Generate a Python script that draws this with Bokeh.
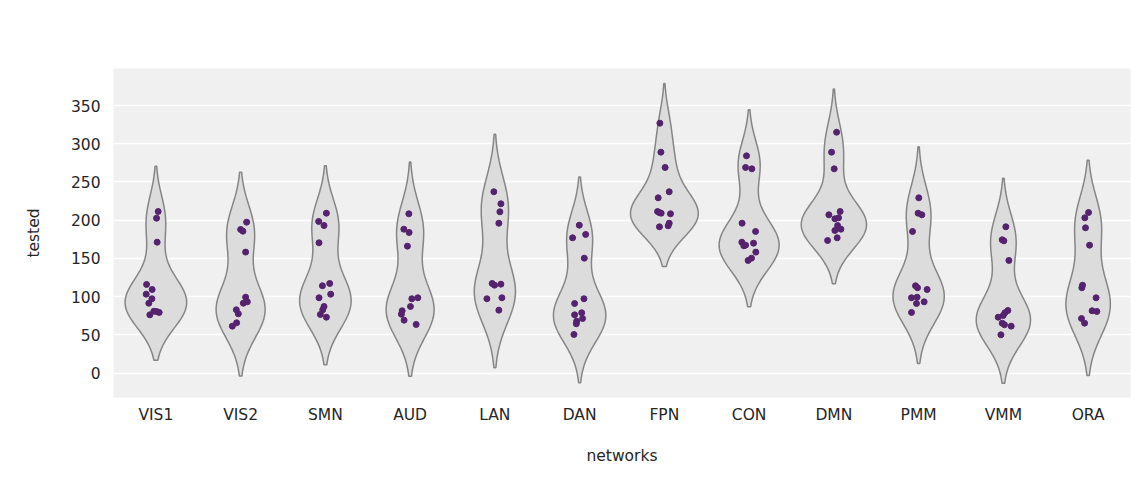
import numpy as np
from bokeh.plotting import figure
from bokeh.models import Range1d, FixedTicker
from bokeh.embed import file_html
from bokeh.resources import INLINE

# networks on the x axis
networks = ["VIS1", "VIS2", "SMN", "AUD", "LAN", "DAN",
            "FPN", "CON", "DMN", "PMM", "VMM", "ORA"]

# "tested" values per network
vis1 = [211.4, 202.7, 171.3, 116.0, 109.4, 103.3, 97.3, 91.5, 81.0, 79.4, 76.3, 80.5]
vis2 = [197.5, 187.9, 185.7, 158.3, 99.4, 93.3, 91.5, 82.9, 77.6, 65.9, 61.5]
smn = [209.2, 198.4, 193.1, 170.5, 117.3, 114.3, 103.3, 98.6, 87.2, 82.9, 76.8, 73.2]
aud = [208.4, 188.3, 184.0, 166.1, 97.3, 98.6, 87.2, 81.6, 77.1, 69.3, 63.7]
lan = [237.2, 221.5, 211.0, 196.1, 117.3, 115.1, 116.4, 97.3, 98.6, 82.4]
dan = [193.5, 181.4, 177.0, 150.4, 97.3, 91.1, 79.0, 76.3, 71.5, 68.0, 64.6, 50.6]
fpn = [326.9, 289.0, 269.0, 237.2, 229.3, 211.4, 209.2, 208.4, 196.1, 192.7, 191.4, 210.0]
con = [284.2, 269.0, 267.2, 196.1, 185.3, 171.3, 167.4, 166.6, 170.0, 158.3, 150.4, 147.4]
dmn = [315.1, 289.0, 267.2, 211.4, 207.1, 203.2, 201.9, 193.1, 188.3, 186.6, 177.0, 173.5]
pmm = [229.3, 209.2, 207.1, 185.3, 114.3, 111.7, 109.4, 98.6, 99.4, 93.3, 91.1, 79.4]
vmm = [191.4, 174.4, 173.1, 147.4, 82.0, 79.0, 75.4, 73.2, 65.4, 63.3, 61.5, 50.2]
ora = [210.1, 203.2, 190.1, 167.4, 115.1, 111.7, 98.6, 81.6, 80.7, 71.5, 65.4]

# horizontal strip jitter (fraction of a category slot)
vis1_dx = [0.027, 0.008, 0.015, -0.110, -0.044, -0.114, -0.047, -0.083, -0.024, 0.039, -0.071, 0.010]
vis2_dx = [0.071, 0.000, 0.027, 0.059, 0.059, 0.079, 0.032, -0.051, -0.027, -0.047, -0.098]
smn_dx = [0.012, -0.079, -0.016, -0.075, 0.051, -0.035, 0.063, -0.075, -0.016, -0.031, -0.059, 0.012]
aud_dx = [-0.015, -0.074, -0.012, -0.032, 0.020, 0.091, 0.004, -0.094, -0.103, -0.071, 0.071]
lan_dx = [-0.012, 0.071, 0.059, 0.047, -0.032, -0.004, 0.071, -0.094, 0.083, 0.047]
dan_dx = [-0.004, 0.071, -0.083, 0.055, 0.051, -0.059, 0.024, -0.059, 0.035, -0.035, -0.039, -0.067]
fpn_dx = [-0.053, -0.041, 0.009, 0.057, -0.073, -0.081, -0.038, 0.072, 0.057, 0.045, -0.058, -0.060]
con_dx = [-0.031, -0.042, 0.032, -0.083, 0.076, -0.086, -0.042, -0.063, 0.052, 0.079, 0.028, -0.012]
dmn_dx = [0.032, -0.027, 0.004, 0.074, -0.059, 0.055, 0.012, 0.044, 0.083, 0.012, 0.039, -0.074]
pmm_dx = [0.002, -0.006, 0.038, -0.072, -0.037, -0.013, 0.100, -0.084, -0.018, 0.065, -0.025, -0.084]
vmm_dx = [0.029, -0.014, 0.006, 0.065, 0.053, 0.018, -0.002, -0.061, -0.014, 0.013, 0.092, -0.029]
ora_dx = [0.005, -0.039, -0.031, 0.017, -0.066, -0.074, 0.094, 0.047, 0.103, -0.078, -0.042]

groups = [vis1, vis2, smn, aud, lan, dan, fpn, con, dmn, pmm, vmm, ora]
jitters = [vis1_dx, vis2_dx, smn_dx, aud_dx, lan_dx, dan_dx,
           fpn_dx, con_dx, dmn_dx, pmm_dx, vmm_dx, ora_dx]

y_ticks = [0, 50, 100, 150, 200, 250, 300, 350]

VIOLIN_WIDTH = 0.8


def gaussian_kde(vals, gridsize=100, cut=2.0):
    v = np.asarray(vals, dtype=float)
    n = len(v)
    bw = v.std(ddof=1) * n ** (-1.0 / 5.0)
    grid = np.linspace(v.min() - cut * bw, v.max() + cut * bw, gridsize)
    dens = np.exp(-0.5 * ((grid[:, None] - v[None, :]) / bw) ** 2).sum(axis=1)
    dens /= n * bw * np.sqrt(2 * np.pi)
    return grid, dens


kdes = [gaussian_kde(g) for g in groups]
peak = max(d.max() for _, d in kdes)

# violin outlines, area-scaled against the tallest density
vx, vy = [], []
for i, (grid, dens) in enumerate(kdes):
    c = i + 0.5
    half = dens / peak * VIOLIN_WIDTH / 2
    vx.append(np.concatenate([c - half, (c + half)[::-1]]).tolist())
    vy.append(np.concatenate([grid, grid[::-1]]).tolist())

px, py = [], []
for i, (g, dx) in enumerate(zip(groups, jitters)):
    for val, off in zip(g, dx):
        px.append(i + 0.5 + off)
        py.append(val)

p = figure(width=1145, height=495, output_backend="svg", toolbar_location=None,
           x_range=Range1d(0, len(networks)), y_range=Range1d(-31.8, 398.4),
           min_border_left=113, min_border_right=15, min_border_top=68,
           min_border_bottom=98)

p.background_fill_color = "#f0f0f0"
p.border_fill_color = "white"
p.outline_line_color = None

p.patches(vx, vy, fill_color="#dcdcdc", line_color="#858585", line_width=1.5)
p.scatter(px, py, size=6, fill_color="#55226e", line_color="#55226e")

p.xaxis.ticker = FixedTicker(ticks=[i + 0.5 for i in range(len(networks))])
p.xaxis.major_label_overrides = {i + 0.5: n for i, n in enumerate(networks)}
p.yaxis.ticker = FixedTicker(ticks=y_ticks)

for ax in (p.xaxis[0], p.yaxis[0]):
    ax.axis_line_color = None
    ax.major_tick_line_color = None
    ax.minor_tick_line_color = None
    ax.major_tick_out = 0
    ax.major_tick_in = 0
    ax.minor_tick_out = 0
    ax.major_label_text_font = "DejaVu Sans"
    ax.major_label_text_font_size = "15.5px"
    ax.major_label_text_color = "#262626"
    ax.axis_label_text_font = "DejaVu Sans"
    ax.axis_label_text_font_size = "15.5px"
    ax.axis_label_text_font_style = "normal"
    ax.axis_label_text_color = "#262626"

p.xaxis.axis_label = "networks"
p.yaxis.axis_label = "tested"
p.xaxis.major_label_standoff = 8
p.xaxis.axis_label_standoff = 20
p.yaxis.major_label_standoff = 13
p.yaxis.axis_label_standoff = 25

p.xgrid.grid_line_color = None
p.ygrid.grid_line_color = "white"
p.ygrid.grid_line_width = 1.5

open("out.html", "w").write(file_html(p, INLINE))
